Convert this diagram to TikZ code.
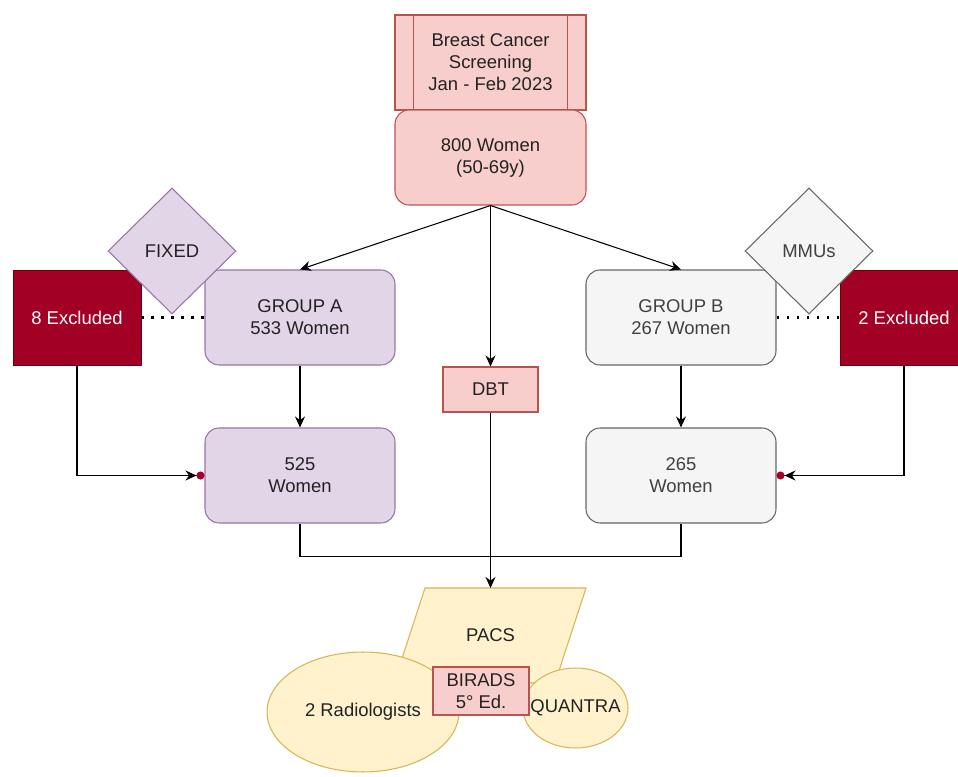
\documentclass[tikz,border=0pt]{standalone}
\usepackage{fontspec}
\setmainfont{Liberation Sans}
\usetikzlibrary{shapes.geometric,arrows.meta}
\definecolor{pinkfill}{HTML}{F8CECC}
\definecolor{pinkline}{HTML}{B85450}
\definecolor{lilacfill}{HTML}{E1D5E7}
\definecolor{lilacline}{HTML}{9673A6}
\definecolor{greyfill}{HTML}{F5F5F5}
\definecolor{greyline}{HTML}{666666}
\definecolor{exclfill}{HTML}{A20025}
\definecolor{exclline}{HTML}{6F0000}
\definecolor{sandfill}{HTML}{FFF2CC}
\definecolor{sandline}{HTML}{D6B656}
\definecolor{inktext}{HTML}{222222}
\begin{document}
\begin{tikzpicture}[x=0.02cm,y=-0.02cm,font=\fontsize{10.5}{12.5}\selectfont,text=inktext,
  >={Stealth[length=0.22cm,width=0.2cm]},
  box/.style={draw,rounded corners=0.28cm,minimum width=3.8cm,minimum height=1.9cm,align=center,line width=0.6pt},
  pinkbox/.style={box,fill=pinkfill,draw=pinkline},
  lilacbox/.style={box,fill=lilacfill,draw=lilacline},
  greybox/.style={box,fill=greyfill,draw=greyline,text=black!75},
  exclbox/.style={draw=exclline,fill=exclfill,text=white,minimum width=2.56cm,minimum height=1.9cm},
  rhomb/.style={diamond,aspect=1,minimum width=2.56cm,minimum height=2.52cm,inner sep=0pt,line width=0.6pt},
  sandshape/.style={fill=sandfill,draw=sandline,line width=0.6pt,align=center},
  link/.style={line width=0.6pt},
  dotlink/.style={line width=1.4pt,dash pattern=on 1.4pt off 4.3pt},
  outlink/.style={link,-{Stealth[length=0.22cm,width=0.2cm] Circle[length=0.16cm,color=exclfill]}}]
\useasboundingbox (0,0) rectangle (958,777);

\node[pinkbox,rounded corners=0pt,minimum width=3.82cm] (screen) at (490.5,62.5) {Breast Cancer\\Screening\\Jan - Feb 2023};
\draw[pinkline,line width=0.6pt] ([xshift=0.38cm]screen.north west) -- ([xshift=0.38cm]screen.south west);
\draw[pinkline,line width=0.6pt] ([xshift=-0.38cm]screen.north east) -- ([xshift=-0.38cm]screen.south east);
\node[pinkbox,minimum width=3.82cm] (women) at (490.5,157.5) {800 Women\\(50-69y)};

\node[lilacbox] (grpA) at (300,317.5) {GROUP A\\533 Women};
\node[lilacbox] (g525) at (300,475.5) {525\\Women};
\node[exclbox] (exclA) at (77,317.5) {8 Excluded};
\node[rhomb,fill=lilacfill,draw=lilacline] (fixed) at (172,251) {FIXED};

\node[greybox] (grpB) at (681,317.5) {GROUP B\\267 Women};
\node[greybox] (g265) at (681,475.5) {265\\Women};
\node[exclbox] (exclB) at (904,317.5) {2 Excluded};
\node[rhomb,fill=greyfill,draw=greyline,text=black!75] (mmus) at (809,251) {MMUs};

\node[draw=pinkline,fill=pinkfill,line width=0.6pt,minimum width=1.9cm,minimum height=0.9cm] (dbt) at (490.5,389.5) {DBT};

\draw[sandshape] (425,588) -- (586,588) -- (555,683) -- (394,683) -- cycle;
\coordinate (pacstop) at (490.5,588);
\node (pacs) at (490.5,635) {PACS};
\node[sandshape,ellipse,minimum width=3.84cm,minimum height=2.4cm] (radio) at (363,712) {2 Radiologists};
\node[sandshape,ellipse,minimum width=2.1cm,minimum height=1.6cm,inner xsep=-0.2cm,inner ysep=0pt] (quantra) at (575.5,708) {QUANTRA};
\node[draw=pinkline,fill=pinkfill,line width=0.6pt,minimum width=1.92cm,minimum height=0.96cm,align=center,inner sep=1pt] (birads) at (481,691) {BIRADS\\5° Ed.};

\draw[link,->] (women.south) -- (grpA.north);
\draw[link,->] (women.south) -- (dbt.north);
\draw[link,->] (women.south) -- (grpB.north);
\draw[link,->] (grpA) -- (g525);
\draw[link,->] (grpB) -- (g265);
\draw[dotlink] (exclA.east) -- (grpA.west);
\draw[dotlink] (grpB.east) -- (exclB.west);
\draw[outlink] (exclA.south) |- (g525.west);
\draw[outlink] (exclB.south) |- (g265.east);
\draw[link] (g525.south) -- ++(0,33) -| (g265.south);
\draw[link,->] (dbt.south) -- (pacstop);

\end{tikzpicture}
\end{document}
